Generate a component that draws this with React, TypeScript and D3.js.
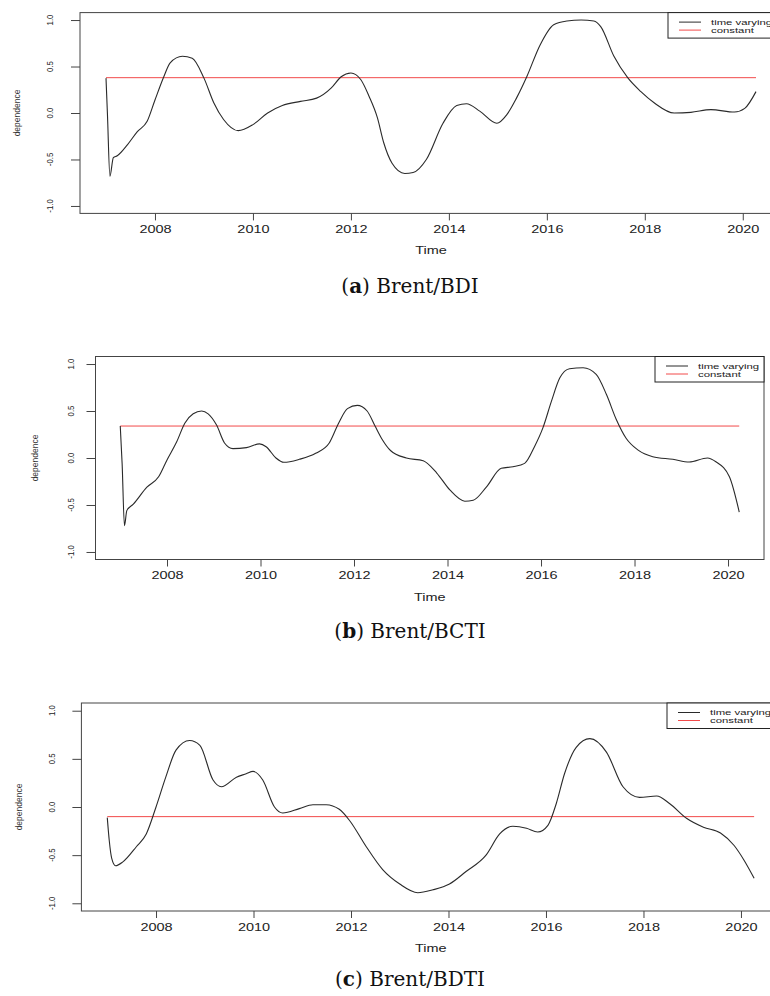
import { useEffect, useRef } from "react";
import * as d3 from "d3";

// (a) Brent/BDI
const YEARS_BDI = [
  2007.0, 2007.03, 2007.08, 2007.15, 2007.23, 2007.44, 2007.64, 2007.84, 2008.0, 2008.18,
  2008.31, 2008.56, 2008.76, 2009.0, 2009.2, 2009.4, 2009.7, 2010.0, 2010.3, 2010.6,
  2010.97, 2011.3, 2011.6, 2011.8, 2012.0, 2012.2, 2012.37, 2012.54, 2012.67, 2012.84,
  2013.1, 2013.27, 2013.54, 2013.88, 2014.16, 2014.36, 2014.63, 2014.98, 2015.18, 2015.38,
  2015.59, 2015.86, 2016.14, 2016.41, 2016.7, 2016.96, 2017.1, 2017.37, 2017.65, 2017.92,
  2018.19, 2018.6, 2018.94, 2019.35, 2019.83, 2020.04, 2020.27,
];
const DEP_BDI = [
  0.375, -0.02, -0.68, -0.48, -0.46, -0.34, -0.2, -0.09, 0.14, 0.39,
  0.54, 0.61, 0.59, 0.375, 0.11, -0.07, -0.19, -0.125, 0.0, 0.08,
  0.125, 0.16, 0.27, 0.39, 0.43, 0.36, 0.18, -0.05, -0.32, -0.54,
  -0.65, -0.64, -0.5, -0.11, 0.08, 0.1, 0.02, -0.11, -0.02, 0.16,
  0.39, 0.73, 0.95, 0.99, 1.0, 0.99, 0.93, 0.61, 0.38, 0.23,
  0.11, 0.0, 0.007, 0.036, 0.01, 0.05, 0.23,
];
const CONST_BDI = 0.38;

// (b) Brent/BCTI
const YEARS_BCTI = [
  2007.0, 2007.04, 2007.09, 2007.14, 2007.28, 2007.57, 2007.82, 2008.0, 2008.21, 2008.38,
  2008.56, 2008.74, 2008.88, 2009.06, 2009.23, 2009.41, 2009.7, 2009.98, 2010.12, 2010.33,
  2010.5, 2010.83, 2011.18, 2011.47, 2011.67, 2011.86, 2012.07, 2012.28, 2012.45, 2012.6,
  2012.78, 2013.12, 2013.48, 2013.77, 2014.05, 2014.37, 2014.55, 2014.83, 2015.15, 2015.4,
  2015.65, 2015.86, 2016.04, 2016.22, 2016.4, 2016.61, 2016.9, 2017.18, 2017.4, 2017.61,
  2017.82, 2018.07, 2018.39, 2018.82, 2019.17, 2019.56, 2019.74, 2020.03, 2020.24,
];
const DEP_BCTI = [
  0.34, -0.06, -0.72, -0.56, -0.49, -0.31, -0.2, -0.02, 0.175, 0.37,
  0.47, 0.5, 0.47, 0.35, 0.16, 0.1, 0.11, 0.15, 0.12, 0.0,
  -0.046, -0.014, 0.05, 0.16, 0.37, 0.525, 0.56, 0.5, 0.34, 0.2,
  0.08, 0.0, -0.03, -0.16, -0.34, -0.46, -0.45, -0.31, -0.11, -0.093,
  -0.057, 0.12, 0.32, 0.6, 0.85, 0.95, 0.96, 0.89, 0.675, 0.41,
  0.21, 0.086, 0.014, -0.014, -0.043, 0.0, -0.04, -0.2, -0.575,
];
const CONST_BCTI = 0.34;

// (c) Brent/BDTI
const YEARS_BDTI = [
  2007.0, 2007.04, 2007.09, 2007.17, 2007.32, 2007.6, 2007.8, 2008.0, 2008.2, 2008.41,
  2008.69, 2008.9, 2009.17, 2009.34, 2009.65, 2009.85, 2009.99, 2010.19, 2010.43, 2010.6,
  2010.94, 2011.22, 2011.49, 2011.76, 2011.97, 2012.31, 2012.65, 2013.0, 2013.37, 2013.68,
  2014.02, 2014.36, 2014.77, 2015.05, 2015.32, 2015.6, 2015.83, 2016.04, 2016.21, 2016.38,
  2016.62, 2016.9, 2017.24, 2017.58, 2017.92, 2018.27, 2018.54, 2018.89, 2019.23, 2019.58,
  2019.86, 2020.06, 2020.27,
];
const DEP_BDTI = [
  -0.11, -0.345, -0.53, -0.61, -0.57, -0.41, -0.28, 0.0, 0.31, 0.59,
  0.69, 0.64, 0.28, 0.21, 0.31, 0.345, 0.37, 0.28, 0.0, -0.062,
  -0.017, 0.024, 0.024, -0.024, -0.14, -0.41, -0.65, -0.8, -0.89, -0.86,
  -0.8, -0.67, -0.5, -0.28, -0.2, -0.22, -0.26, -0.19, 0.034, 0.345,
  0.62, 0.71, 0.57, 0.21, 0.1, 0.114, 0.034, -0.12, -0.21, -0.27,
  -0.4, -0.55, -0.74,
];
const CONST_BDTI = -0.1;

const X_TICKS = [2008, 2010, 2012, 2014, 2016, 2018, 2020];
const Y_TICKS = [-1, -0.5, 0, 0.5, 1];
const LEGEND = ["time varying", "constant"];

const SANS = "Liberation Sans, Arial, sans-serif";
const LINE = "#2a2a2a";
const RED = "#f24a4a";
const AXIS = "#444";

type Layout = {
  left: number;
  right: number;
  top: number;
  bottom: number;
  tickLabelOffset: number;
  yLabelOffset: number;
  legendW: number;
  captionY: number;
};

type PanelProps = {
  years: number[];
  values: number[];
  constant: number;
  letter: string;
  name: string;
  layout: Layout;
};

function Panel({ years, values, constant, letter, name, layout }: PanelProps) {
  const axRef = useRef<SVGGElement>(null);
  const { left, right, top, bottom } = layout;

  // R style: data range widened by 4% on each side
  const [x0, x1] = d3.extent(years) as [number, number];
  const pad = (x1 - x0) * 0.04;
  const x = d3.scaleLinear().domain([x0 - pad, x1 + pad]).range([left, right]);
  const y = d3.scaleLinear().domain([-1.08, 1.08]).range([bottom, top]);

  const line = d3
    .line<number>()
    .x((_, i) => x(years[i]))
    .y((d) => y(d))
    .curve(d3.curveMonotoneX);

  useEffect(() => {
    if (!axRef.current) return;
    const g = d3.select(axRef.current);
    g.selectAll("*").remove();

    const xa = g
      .append("g")
      .attr("transform", `translate(0,${bottom})`)
      .call(
        d3
          .axisBottom(x)
          .tickValues(X_TICKS)
          .tickSize(7)
          .tickFormat((d) => String(d))
      );
    xa.select(".domain").remove();
    xa.attr("font-family", SANS).attr("font-size", 10);
    xa.selectAll(".tick line").attr("stroke", AXIS);
    xa.selectAll(".tick text")
      .attr("y", 20)
      .attr("dy", null)
      .attr("fill", "#222")
      .attr("transform", "scale(1.45,1)");

    const ya = g
      .append("g")
      .attr("transform", `translate(${left},0)`)
      .call(d3.axisLeft(y).tickValues(Y_TICKS).tickSize(9).tickFormat(() => ""));
    ya.select(".domain").remove();
    ya.selectAll(".tick line").attr("stroke", AXIS);
  }, [years, layout]);

  const legX = right - layout.legendW;
  const cx = (left + right) / 2;

  return (
    <g>
      <rect x={left} y={top} width={right - left} height={bottom - top} fill="none" stroke={AXIS} strokeWidth={1} />
      <g ref={axRef} />
      {Y_TICKS.map((t) => (
        <text
          key={t}
          transform={`translate(${left - layout.tickLabelOffset},${y(t)}) scale(1.2,1) rotate(-90)`}
          textAnchor="middle"
          fontFamily={SANS}
          fontSize={7.8}
          fill="#222"
        >
          {t.toFixed(1)}
        </text>
      ))}
      <line
        x1={x(years[0])}
        x2={x(years[years.length - 1])}
        y1={y(constant)}
        y2={y(constant)}
        stroke={RED}
        strokeWidth={1}
      />
      <path d={line(values) ?? ""} fill="none" stroke={LINE} strokeWidth={1.1} strokeLinejoin="round" />

      <rect x={legX} y={top} width={layout.legendW} height={25.5} fill="#fff" stroke="#222" strokeWidth={1} />
      {LEGEND.map((label, i) => {
        const ly = top + 9.5 + i * 8;
        return (
          <g key={label}>
            <line x1={legX + 11} x2={legX + 33} y1={ly} y2={ly} stroke={i === 0 ? LINE : RED} strokeWidth={1} />
            <text
              transform={`translate(${legX + 43},${ly + 2.6}) scale(1.42,1)`}
              fontFamily={SANS}
              fontSize={8}
              fill="#222"
            >
              {label}
            </text>
          </g>
        );
      })}

      <text
        transform={`translate(${cx},${bottom + 41}) scale(1.42,1)`}
        textAnchor="middle"
        fontFamily={SANS}
        fontSize={10.2}
        fill="#222"
      >
        Time
      </text>
      <text
        transform={`translate(${left - layout.yLabelOffset},${(top + bottom) / 2}) scale(1.05,1) rotate(-90)`}
        textAnchor="middle"
        fontFamily={SANS}
        fontSize={8.5}
        fill="#333"
      >
        dependence
      </text>

      <text
        x={410}
        y={layout.captionY}
        textAnchor="middle"
        fontFamily="DejaVu Serif, Liberation Serif, serif"
        fontSize={20}
        fill="#111"
      >
        (<tspan fontWeight="bold">{letter}</tspan>) {name}
      </text>
    </g>
  );
}

const LAYOUT_A: Layout = { left: 80, right: 782, top: 12.6, bottom: 213.4, tickLabelOffset: 27.5, yLabelOffset: 59.6, legendW: 114, captionY: 293 };
const LAYOUT_B: Layout = { left: 95.5, right: 764, top: 356.5, bottom: 559.5, tickLabelOffset: 22, yLabelOffset: 57.8, legendW: 109, captionY: 638 };
const LAYOUT_C: Layout = { left: 81.4, right: 780, top: 703, bottom: 911, tickLabelOffset: 26.5, yLabelOffset: 59, legendW: 113, captionY: 986 };

export default function App() {
  return (
    <svg
      width={770}
      height={996}
      viewBox="0 0 770 996"
      style={{ position: "absolute", left: 0, top: 0, background: "#fff" }}
    >
      <Panel years={YEARS_BDI} values={DEP_BDI} constant={CONST_BDI} letter="a" name="Brent/BDI" layout={LAYOUT_A} />
      <Panel years={YEARS_BCTI} values={DEP_BCTI} constant={CONST_BCTI} letter="b" name="Brent/BCTI" layout={LAYOUT_B} />
      <Panel years={YEARS_BDTI} values={DEP_BDTI} constant={CONST_BDTI} letter="c" name="Brent/BDTI" layout={LAYOUT_C} />
    </svg>
  );
}
